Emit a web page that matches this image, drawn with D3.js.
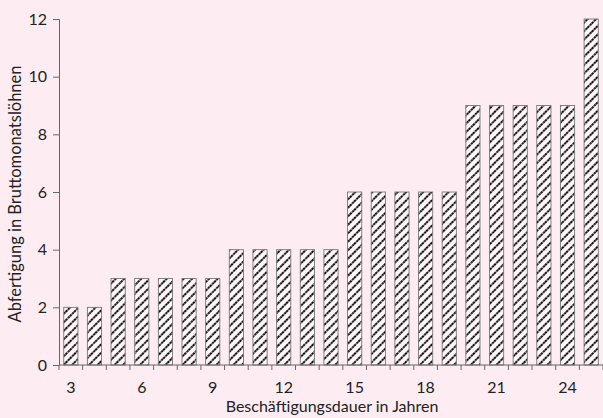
<!DOCTYPE html>
<html><head><meta charset="utf-8">
<script src="https://cdn.jsdelivr.net/npm/d3@7"></script>
<style>
html,body{margin:0;padding:0;background:#fdedf2;}
svg{display:block;}
text{font-family:"Lato","Open Sans",sans-serif;fill:#222;}
</style></head>
<body>
<svg id="chart" width="603" height="418"></svg>
<script>
const years = [3,4,5,6,7,8,9,10,11,12,13,14,15,16,17,18,19,20,21,22,23,24,25];
const values = [2,2,3,3,3,3,3,4,4,4,4,4,6,6,6,6,6,9,9,9,9,9,12];
const yTicks = [0,2,4,6,8,10,12];
const xTickLabels = [3,6,9,12,15,18,21,24];
const yTitle = "Abfertigung in Bruttomonatslöhnen";
const xTitle = "Beschäftigungsdauer in Jahren";

(function(){
const svg = d3.select("#chart");
const mLeft = 59, mRight = 603, mTop = 19, mBottom = 365;

const x = d3.scaleBand().domain(years).range([mLeft, mRight]).paddingInner(0.4).paddingOuter(0.2);
const y = d3.scaleLinear().domain([0, 12]).range([mBottom, mTop]);

const defs = svg.append("defs");
const pat = defs.append("pattern").attr("id","hatch").attr("patternUnits","userSpaceOnUse")
  .attr("width",6).attr("height",6).attr("patternTransform","rotate(-45)");
pat.append("rect").attr("width",6).attr("height",6).attr("fill","#fdf5f8");
pat.append("line").attr("x1",0).attr("y1",3).attr("x2",6).attr("y2",3)
  .attr("stroke","#111").attr("stroke-width",1.9).attr("stroke-dasharray","2.4,0.8");

svg.append("g").selectAll("rect").data(years).join("rect")
  .attr("x", d => x(d))
  .attr("y", (d,i) => y(values[i]))
  .attr("width", x.bandwidth())
  .attr("height", (d,i) => y(0) - y(values[i]))
  .attr("fill","url(#hatch)")
  .attr("stroke","#777").attr("stroke-width",0.9);

const yAxis = svg.append("g").attr("transform",`translate(${mLeft},0)`)
  .call(d3.axisLeft(y).tickValues(yTicks).tickSize(6).tickPadding(6));
yAxis.select(".domain").attr("stroke","#666");
yAxis.selectAll(".tick line").attr("stroke","#666");
yAxis.selectAll("text").attr("font-size",16).style("font-family","Lato, sans-serif").attr("fill","#222");

const step = x.step();
const boundaries = years.map(d => x(d) - step*0.2).concat([x(years[years.length-1]) + x.bandwidth() + step*0.2]);
svg.append("line").attr("x1",mLeft).attr("x2",mRight).attr("y1",mBottom).attr("y2",mBottom).attr("stroke","#666");
svg.append("g").selectAll("line").data(boundaries).join("line")
  .attr("x1",d=>d).attr("x2",d=>d).attr("y1",mBottom).attr("y2",mBottom+5).attr("stroke","#666");
svg.append("g").selectAll("text").data(xTickLabels).join("text")
  .attr("x", d => x(d) + x.bandwidth()/2)
  .attr("y", mBottom + 28)
  .attr("text-anchor","middle").attr("font-size",16).text(d=>d);

svg.append("text").attr("x", 332).attr("y", 412).attr("text-anchor","middle")
  .attr("font-size",16).text(xTitle);
svg.append("text").attr("transform","translate(21,194) rotate(-90)").attr("text-anchor","middle")
  .attr("font-size",16.5).text(yTitle);
})();
</script>
</body></html>
